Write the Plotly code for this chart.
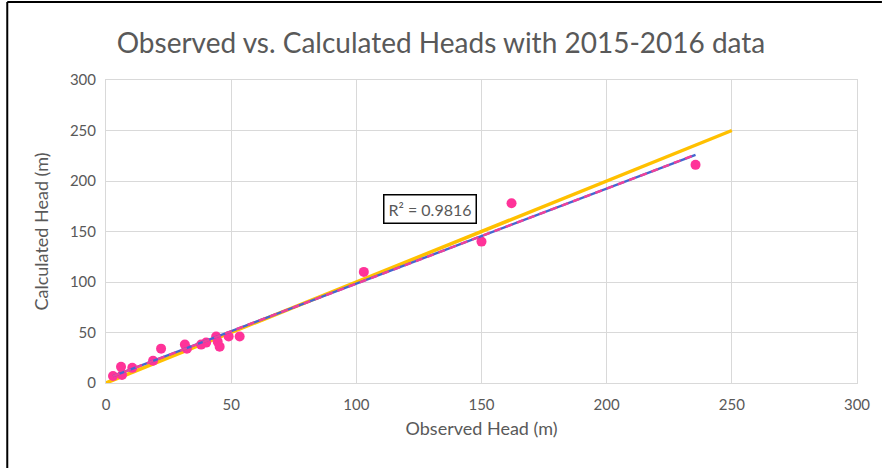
import numpy as np
import plotly.graph_objects as go

observed = [2.8, 6.0, 6.4, 10.5, 18.8, 22.0, 31.5, 32.3, 38.0, 40.0, 44.0, 44.6, 45.4, 49.0, 53.4, 103.0, 150.0, 162.0, 235.5]
calculated = [7.0, 16.0, 8.0, 15.0, 22.0, 34.0, 38.0, 34.0, 38.0, 40.0, 46.0, 41.0, 36.0, 46.0, 46.0, 110.0, 140.0, 178.0, 216.0]
one_to_one = [0, 250]
x_ticks = [0, 50, 100, 150, 200, 250, 300]
y_ticks = [0, 50, 100, 150, 200, 250, 300]
r2_text = "R² = 0.9816"

slope, intercept = np.polyfit(observed, calculated, 1)
tx = [min(observed), max(observed)]
ty = [slope * v + intercept for v in tx]

grey = "#595959"
font = "Lato"

fig = go.Figure()
fig.add_trace(go.Scatter(x=one_to_one, y=one_to_one, mode="lines",
                         line=dict(color="#FFC000", width=3.5), showlegend=False))
fig.add_trace(go.Scatter(x=observed, y=calculated, mode="markers",
                         marker=dict(color="#FF3399", size=10), showlegend=False))
fig.add_trace(go.Scatter(x=tx, y=ty, mode="lines",
                         line=dict(color="#4466D0", width=2.4), showlegend=False))
fig.add_trace(go.Scatter(x=tx, y=ty, mode="lines",
                         line=dict(color="#F0409A", width=2.4, dash="7px,5px"), showlegend=False))

fig.add_annotation(x=129.5, y=172, xref="x", yref="y", text=r2_text, showarrow=False,
                   font=dict(family=font, size=16, color=grey),
                   bordercolor="black", borderwidth=1.5, borderpad=4, bgcolor="white")

fig.update_layout(
    width=882, height=468,
    margin=dict(l=106, r=23, t=80, b=85),
    paper_bgcolor="white", plot_bgcolor="white",
    title=dict(text="Observed vs. Calculated Heads with 2015-2016 data",
               x=0.5, xanchor="center", y=1 - 43 / 468, yanchor="middle",
               font=dict(family=font, size=28, color=grey)),
    xaxis=dict(range=[0, 300], tickvals=x_ticks, showgrid=True, gridcolor="#D9D9D9",
               gridwidth=1, zeroline=False, ticks="outside", ticklen=8, tickcolor="rgba(0,0,0,0)",
               tickfont=dict(family=font, size=15, color=grey),
               title=dict(text="Observed Head (m)", font=dict(family=font, size=18, color=grey), standoff=10)),
    yaxis=dict(range=[0, 300], tickvals=y_ticks, showgrid=True, gridcolor="#D9D9D9",
               gridwidth=1, zeroline=False, ticks="outside", ticklen=6, tickcolor="rgba(0,0,0,0)",
               tickfont=dict(family=font, size=15, color=grey),
               title=dict(text="Calculated Head (m)", font=dict(family=font, size=18, color=grey), standoff=16)),
)
fig.update_xaxes(mirror=True, showline=True, linecolor="#D9D9D9", linewidth=1)
fig.update_yaxes(mirror=True, showline=True, linecolor="#D9D9D9", linewidth=1)

pw, ph = 753, 303
fig.add_shape(type="line", xref="paper", yref="paper", x0=(7 - 106) / pw, x1=(7 - 106) / pw,
              y0=(383 - 470) / ph, y1=(383 - 2) / ph, line=dict(color="black", width=2))
fig.add_shape(type="line", xref="paper", yref="paper", x0=(7 - 106) / pw, x1=(884 - 106) / pw,
              y0=(383 - 2) / ph, y1=(383 - 2) / ph, line=dict(color="black", width=2))

fig.write_html("out.html", config={"displayModeBar": False},
               post_script="document.body.style.margin='0';document.body.style.overflow='hidden';")
